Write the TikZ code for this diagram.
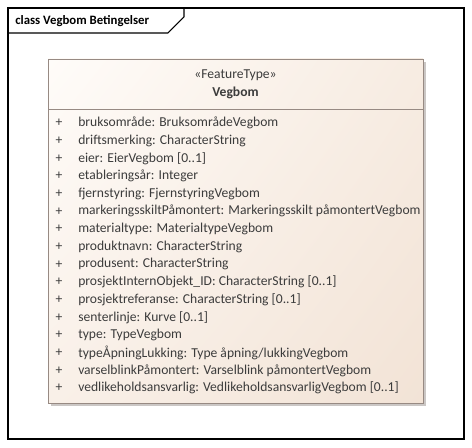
\documentclass[tikz,border=0pt]{standalone}
\usepackage{fontspec}
\setmainfont{Carlito}
\usetikzlibrary{shadings}
\definecolor{umlborder}{HTML}{978A83}
\definecolor{umlshadow}{HTML}{CBC7C5}
\definecolor{umltext}{HTML}{3C3C3C}
\definecolor{fillUL}{HTML}{FFFCF9}
\definecolor{fillUR}{HTML}{F7ECE2}
\definecolor{fillLL}{HTML}{F9F0E8}
\definecolor{fillLR}{HTML}{F2E3D6}
\tikzset{
  umltxt/.style={inner sep=0pt, text=umltext, font=\fontsize{10.2}{12}\selectfont},
  attr/.style={umltxt, anchor=west},
  vis/.style={umltxt, anchor=center},
}
\begin{document}
\begin{tikzpicture}[x=0.75pt,y=-0.75pt]
\useasboundingbox (0,0) rectangle (472,448);
% diagram frame
\draw[line width=0.8pt] (8,8) rectangle (464,439);
\draw[line width=0.8pt] (8,33) -- (168,33) -- (184,17) -- (184,8);
\node[anchor=west, inner sep=0pt, font=\fontsize{9.6}{11}\selectfont\bfseries] (frametitle) at (15,21) {class Vegbom Betingelser};
% class box
\fill[umlshadow] (51,62) rectangle (426,406);
\shade[upper left=fillUL, upper right=fillUR, lower left=fillLL, lower right=fillLR]
  (48,59) rectangle (423,403);
\draw[umlborder, line width=0.6pt] (48,59) rectangle (423,403);
\draw[umlborder, line width=0.6pt] (48,109) -- (423,109);
\node[umltxt] (stereo) at (235.5,75) {«FeatureType»};
\node[umltxt, font=\fontsize{10.2}{12}\selectfont\bfseries] (clsname) at (235.5,93) {Vegbom};
% attributes
\foreach \txt [count=\i] in {
  bruksområde: BruksområdeVegbom,
  driftsmerking: CharacterString,
  eier: EierVegbom [0..1],
  etableringsår: Integer,
  fjernstyring: FjernstyringVegbom,
  markeringsskiltPåmontert: Markeringsskilt påmontertVegbom,
  materialtype: MaterialtypeVegbom,
  produktnavn: CharacterString,
  produsent: CharacterString,
  prosjektInternObjekt\_ID: CharacterString [0..1],
  prosjektreferanse: CharacterString [0..1],
  senterlinje: Kurve [0..1],
  type: TypeVegbom,
  typeÅpningLukking: Type åpning/lukkingVegbom,
  varselblinkPåmontert: Varselblink påmontertVegbom,
  vedlikeholdsansvarlig: VedlikeholdsansvarligVegbom [0..1]}
{
  \node[vis] (p\i) at (59,{123+(\i-1)*17.67}) {+};
  \node[attr] (a\i) at (78,{123+(\i-1)*17.67}) {\txt};
}
\end{tikzpicture}
\end{document}
